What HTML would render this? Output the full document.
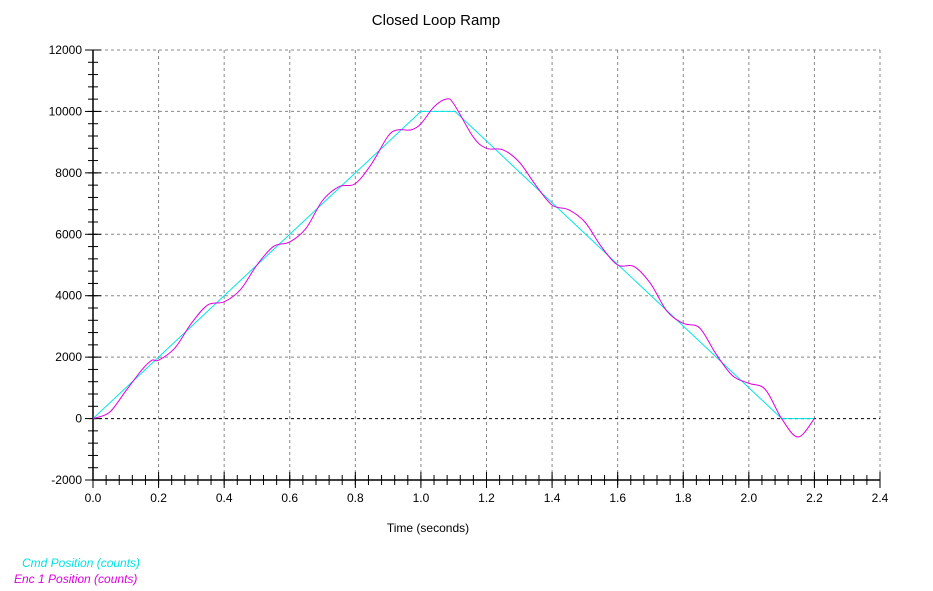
<!DOCTYPE html>
<html><head><meta charset="utf-8"><style>
body{margin:0;background:#fff;}
svg{display:block;font-family:"Liberation Sans",Arial,sans-serif;}
</style></head><body>
<svg id="c" width="933" height="591">
<text x="436" y="25" font-size="15" text-anchor="middle">Closed Loop Ramp</text>
<text x="428" y="532" font-size="12" text-anchor="middle">Time (seconds)</text>
<text x="22" y="567" font-size="12" font-style="italic" fill="#00e5e5">Cmd Position (counts)</text>
<text x="14" y="583" font-size="12" font-style="italic" fill="#e000e0">Enc 1 Position (counts)</text>
</svg>
<script>
const xTicks=[0,0.2,0.4,0.6,0.8,1.0,1.2,1.4,1.6,1.8,2.0,2.2,2.4];
const yTicks=[-2000,0,2000,4000,6000,8000,10000,12000];
const cmdT=[0,1.0,1.104,2.1,2.2];
const cmdV=[0,10000,10000,0,0];
const encT=[0,0.05,0.1,0.15,0.18,0.2,0.25,0.3,0.35,0.4,0.45,0.5,0.55,0.6,0.65,0.7,0.75,0.8,0.85,0.9,0.93,0.97,1.0,1.04,1.077,1.1,1.16,1.2,1.25,1.3,1.35,1.4,1.45,1.5,1.55,1.6,1.65,1.7,1.75,1.8,1.85,1.9,1.95,2.0,2.05,2.1,2.15,2.2];
const encV=[0,200,900,1600,1900,1900,2300,3100,3700,3800,4200,5000,5600,5750,6200,7100,7550,7650,8300,9200,9400,9400,9600,10150,10400,10250,9160,8800,8750,8350,7600,6950,6800,6400,5600,5000,4950,4400,3500,3100,2950,2100,1400,1150,950,0,-600,0];
const X0=93,X1=880,Y0=480,Y1=50;
const sx=t=>X0+(t-0)/2.4*(X1-X0);
const sy=v=>Y0-(v+2000)/14000*(Y0-Y1);
const svg=document.getElementById('c');
const NS='http://www.w3.org/2000/svg';
function mk(tag,a){const e=document.createElementNS(NS,tag);for(const k in a)e.setAttribute(k,a[k]);svg.appendChild(e);return e;}
xTicks.forEach(t=>{
  if(t>0){const g=mk('line',{x1:sx(t),x2:sx(t),y1:Y1,y2:Y0,stroke:'#888','stroke-dasharray':'3,3'});
  
  }
  const tk=mk('line',{x1:sx(t),x2:sx(t),y1:Y0-8,y2:Y0+8,stroke:'#000'});
  
  
  const l=mk('text',{x:sx(t),y:Y0+22,'font-size':12,'text-anchor':'middle'});l.textContent=t.toFixed(1);
  
  
});
for(let t=0;t<2.4;t+=0.04){mk('line',{x1:sx(t),x2:sx(t),y1:Y0-5,y2:Y0+5,stroke:'#000'});}
yTicks.forEach(v=>{
  if(v>-2000){const g=mk('line',{x1:X0,x2:X1,y1:sy(v),y2:sy(v),stroke:v===0?'#000':'#888','stroke-dasharray':'3,3'});
  
  }
  const tk=mk('line',{x1:X0-8,x2:X0+8,y1:sy(v),y2:sy(v),stroke:'#000'});
  
  
  const l=mk('text',{x:X0-11,y:sy(v)+4,'font-size':12,'text-anchor':'end'});l.textContent=v;
  
  
});
for(let v=-2000;v<12000;v+=400){mk('line',{x1:X0-5,x2:X0+5,y1:sy(v),y2:sy(v),stroke:'#000'});}
const ax=mk('path',{d:`M${X0},${Y1}V${Y0}H${X1}`,stroke:'#000',fill:'none','stroke-width':1.5});


let cd='';cmdT.forEach((t,i)=>cd+=(i?'L':'M')+sx(t)+','+sy(cmdV[i]));
const cp=mk('path',{d:cd,stroke:'#00e5e5',fill:'none'});


const P=encT.map((t,i)=>[sx(t),sy(encV[i])]);
let ed='M'+P[0][0]+','+P[0][1];
for(let i=0;i<P.length-1;i++){const p0=P[Math.max(0,i-1)],p1=P[i],p2=P[i+1],p3=P[Math.min(P.length-1,i+2)];
ed+=`C${p1[0]+(p2[0]-p0[0])/6},${p1[1]+(p2[1]-p0[1])/6} ${p2[0]-(p3[0]-p1[0])/6},${p2[1]-(p3[1]-p1[1])/6} ${p2[0]},${p2[1]}`;}
const ep=mk('path',{d:ed,stroke:'#e000e0',fill:'none'});


</script>
</body></html>
